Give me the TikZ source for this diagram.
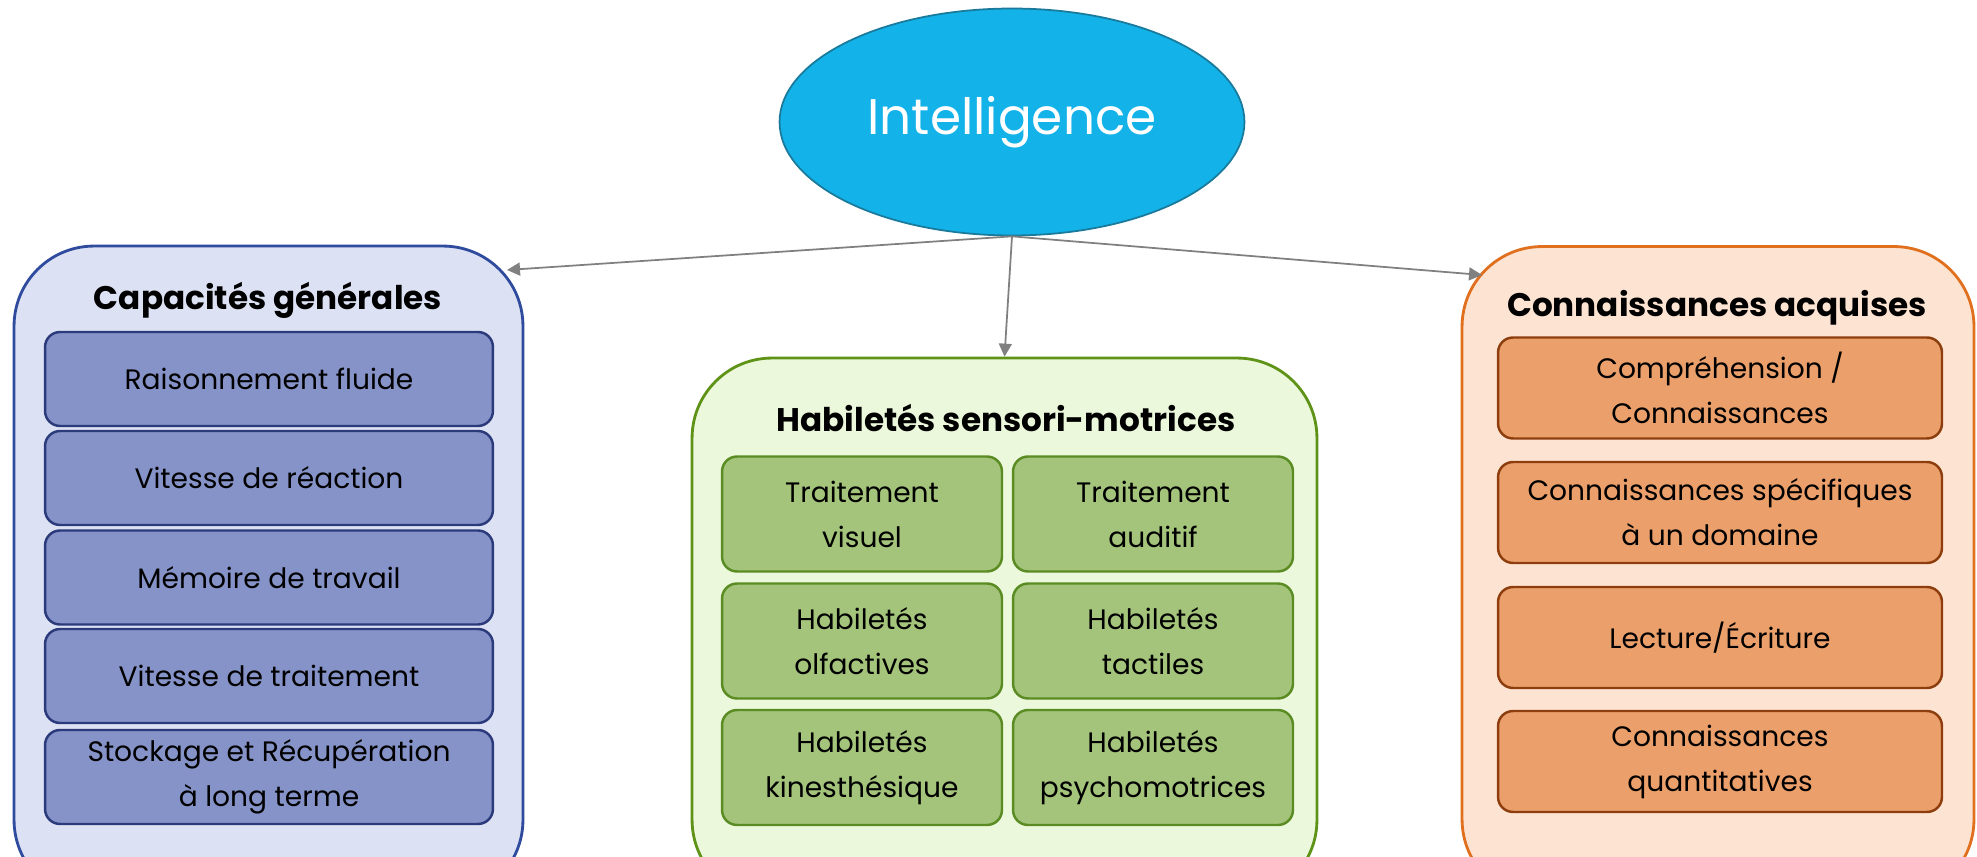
\documentclass[tikz,border=0pt]{standalone}
\usepackage{fontspec}
\setmainfont{Poppins}
\usetikzlibrary{shapes.geometric,arrows.meta}
\definecolor{intelfill}{HTML}{13B2E8}
\definecolor{inteldraw}{HTML}{1A7A9C}
\definecolor{capfill}{HTML}{DCE1F3}
\definecolor{capdraw}{HTML}{2E4B9D}
\definecolor{capitemfill}{HTML}{8693C8}
\definecolor{capitemdraw}{HTML}{2A3A7A}
\definecolor{habfill}{HTML}{ECF8DC}
\definecolor{habdraw}{HTML}{5E9318}
\definecolor{habitemfill}{HTML}{A3C47A}
\definecolor{habitemdraw}{HTML}{5A8C23}
\definecolor{conFill}{HTML}{FDE4D2}
\definecolor{condraw}{HTML}{E0701E}
\definecolor{conitemfill}{HTML}{EBA06B}
\definecolor{conitemdraw}{HTML}{8E3E0E}
\definecolor{linkgray}{HTML}{808080}
\begin{document}
\begin{tikzpicture}[x=0.02cm,y=-0.02cm,
  bigbox/.style={rectangle,rounded corners=1.6cm,line width=1.6pt,inner sep=0pt},
  itembox/.style={rectangle,rounded corners=0.3cm,line width=1.4pt,inner sep=0pt,
    align=center,font=\fontsize{16}{25.6}\selectfont},
  titletext/.style={font=\fontsize{18.6}{22}\selectfont\bfseries},
  link/.style={draw=linkgray,line width=1pt,-{Triangle[length=0.26cm,width=0.26cm]}}]
\useasboundingbox (0,0) rectangle (1977,857);
\clip (0,0) rectangle (1977,857);

\node[ellipse,fill=intelfill,draw=inteldraw,line width=1pt,minimum width=9.3cm,minimum height=4.54cm,
  inner sep=0pt,text=white,font=\fontsize{28.5}{32}\selectfont] (intel) at (1012,122) {Intelligence};

\node[bigbox,fill=capfill,draw=capdraw,minimum width=10.18cm,minimum height=13.08cm] (cap) at (268.5,573) {};
\node[bigbox,fill=habfill,draw=habdraw,minimum width=12.5cm,minimum height=10.84cm] (hab) at (1004.5,629) {};
\node[bigbox,fill=conFill,draw=condraw,minimum width=10.24cm,minimum height=13.06cm] (con) at (1718,573) {};

\node[titletext] (captitle) at (268,300) {Capacités générales};
\node[titletext] (habtitle) at (1006,418) {Habiletés sensori-motrices};
\node[titletext] (contitle) at (1717,308) {Connaissances acquises};

\tikzset{capitem/.style={itembox,fill=capitemfill,draw=capitemdraw,minimum width=8.96cm,minimum height=1.88cm}}
\node[capitem] (cap1) at (269,379) {Raisonnement fluide};
\node[capitem] (cap2) at (269,478) {Vitesse de réaction};
\node[capitem] (cap3) at (269,577.5) {Mémoire de travail};
\node[capitem] (cap4) at (269,676) {Vitesse de traitement};
\node[capitem] (cap5) at (269,777) {Stockage et Récupération\\à long terme};

\tikzset{habitem/.style={itembox,fill=habitemfill,draw=habitemdraw,minimum width=5.6cm,minimum height=2.3cm}}
\node[habitem] (hab1) at (862,514) {Traitement\\visuel};
\node[habitem] (hab2) at (1153,514) {Traitement\\auditif};
\node[habitem] (hab3) at (862,641) {Habiletés\\olfactives};
\node[habitem] (hab4) at (1153,641) {Habiletés\\tactiles};
\node[habitem] (hab5) at (862,767.5) {Habiletés\\kinesthésique};
\node[habitem] (hab6) at (1153,767.5) {Habiletés\\psychomotrices};

\tikzset{conitem/.style={itembox,fill=conitemfill,draw=conitemdraw,minimum width=8.88cm,minimum height=2.02cm}}
\node[conitem] (con1) at (1720,388) {Compréhension /\\Connaissances};
\node[conitem] (con2) at (1720,512.5) {Connaissances spécifiques\\à un domaine};
\node[conitem] (con3) at (1720,637.5) {Lecture/Écriture};
\node[conitem] (con4) at (1720,761.5) {Connaissances\\quantitatives};

\coordinate (capin) at (507,270);
\coordinate (conin) at (1482,275);
\draw[link] (intel.south) -- (capin);
\draw[link] (intel.south) -- (hab.north);
\draw[link] (intel.south) -- (conin);
\end{tikzpicture}
\end{document}
